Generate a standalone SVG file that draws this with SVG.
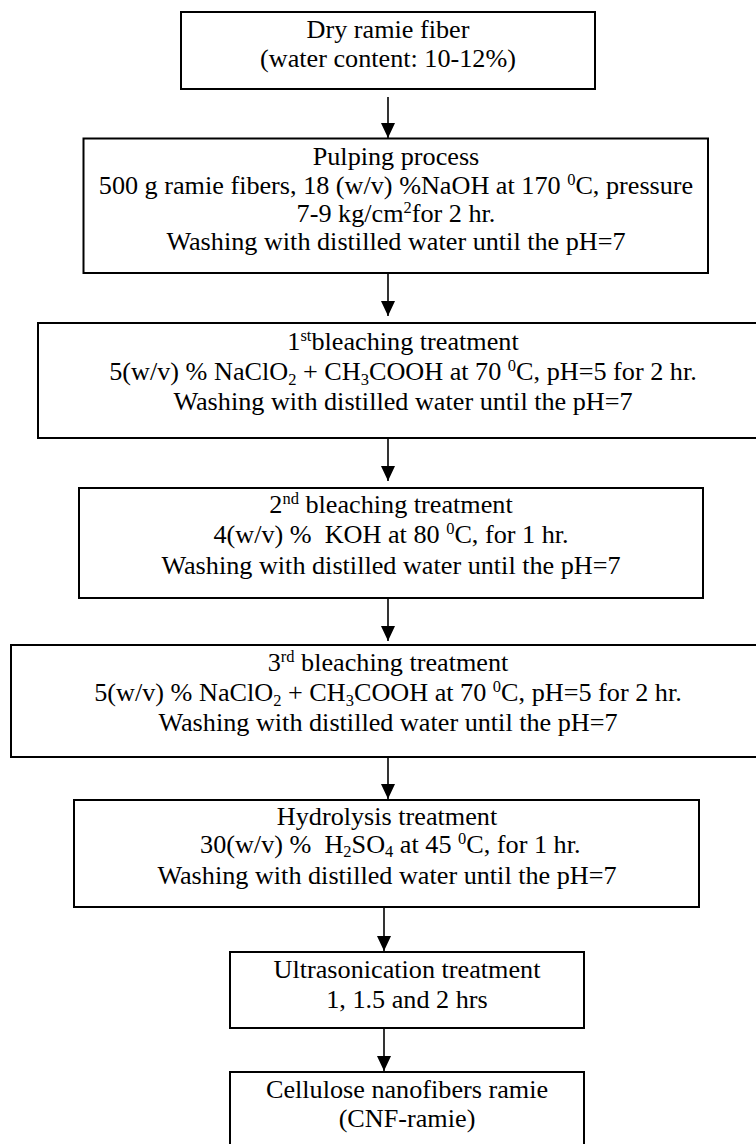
<svg xmlns="http://www.w3.org/2000/svg" width="756" height="1144" viewBox="0 0 756 1144">
<style>
.box{fill:#fff;stroke:#000;stroke-width:2}
.t{font-family:"Liberation Serif","Times New Roman",serif;font-size:26.2px;fill:#000;text-anchor:middle;white-space:pre}
.s{font-size:16.5px}
.conn line{stroke:#000;stroke-width:1.6}
</style>
<defs>
<marker id="ah" viewBox="0 0 15 14" refX="15" refY="7" markerWidth="15" markerHeight="14" markerUnits="userSpaceOnUse" orient="auto">
<path d="M0,0 L15,7 L0,14 z" fill="#000"/>
</marker>
</defs>
<rect width="756" height="1144" fill="#fff"/>
<g id="n1">
<rect class="box" x="181" y="12" width="414" height="77"/>
<text class="t" x="388" y="38">Dry ramie fiber</text>
<text class="t" x="388" y="67">(water content: 10-12%)</text>
</g>
<g id="n2">
<rect class="box" x="83.5" y="138.5" width="624.5" height="134.5"/>
<text class="t" x="396" y="165">Pulping process</text>
<text class="t" x="396" y="194">500 g ramie fibers, 18 (w/v) %NaOH at 170 <tspan class="s" dy="-9">0</tspan><tspan dy="9">C, pressure</tspan></text>
<text class="t" x="396" y="222">7-9 kg/cm<tspan class="s" dy="-9">2</tspan><tspan dy="9">for 2 hr.</tspan></text>
<text class="t" x="396" y="250">Washing with distilled water until the pH=7</text>
</g>
<g id="n3">
<rect class="box" x="38" y="323" width="730" height="115"/>
<text class="t" x="403" y="350">1<tspan class="s" dy="-9">st</tspan><tspan dy="9">bleaching treatment</tspan></text>
<text class="t" x="403" y="380">5(w/v) % NaClO<tspan class="s" dy="5">2</tspan><tspan dy="-5"> + CH</tspan><tspan class="s" dy="5">3</tspan><tspan dy="-5">COOH at 70 </tspan><tspan class="s" dy="-9">0</tspan><tspan dy="9">C, pH=5 for 2 hr.</tspan></text>
<text class="t" x="403" y="410">Washing with distilled water until the pH=7</text>
</g>
<g id="n4">
<rect class="box" x="79" y="488" width="624" height="110"/>
<text class="t" x="391" y="513">2<tspan class="s" dy="-9">nd</tspan><tspan dy="9"> bleaching treatment</tspan></text>
<text class="t" x="391" y="543">4(w/v) %  KOH at 80 <tspan class="s" dy="-9">0</tspan><tspan dy="9">C, for 1 hr.</tspan></text>
<text class="t" x="391" y="574">Washing with distilled water until the pH=7</text>
</g>
<g id="n5">
<rect class="box" x="11" y="645" width="755" height="112"/>
<text class="t" x="388" y="671">3<tspan class="s" dy="-9">rd</tspan><tspan dy="9"> bleaching treatment</tspan></text>
<text class="t" x="388" y="701">5(w/v) % NaClO<tspan class="s" dy="5">2</tspan><tspan dy="-5"> + CH</tspan><tspan class="s" dy="5">3</tspan><tspan dy="-5">COOH at 70 </tspan><tspan class="s" dy="-9">0</tspan><tspan dy="9">C, pH=5 for 2 hr.</tspan></text>
<text class="t" x="388" y="731">Washing with distilled water until the pH=7</text>
</g>
<g id="n6">
<rect class="box" x="74" y="800" width="625" height="107"/>
<text class="t" x="387" y="825">Hydrolysis treatment</text>
<text class="t" x="387" y="853"> 30(w/v) %  H<tspan class="s" dy="4">2</tspan><tspan dy="-4">SO</tspan><tspan class="s" dy="4">4</tspan><tspan dy="-4"> at 45 </tspan><tspan class="s" dy="-9">0</tspan><tspan dy="9">C, for 1 hr.</tspan></text>
<text class="t" x="387" y="884">Washing with distilled water until the pH=7</text>
</g>
<g id="n7">
<rect class="box" x="230" y="952" width="354" height="76"/>
<text class="t" x="407" y="978">Ultrasonication treatment</text>
<text class="t" x="407" y="1008">1, 1.5 and 2 hrs</text>
</g>
<g id="n8">
<rect class="box" x="230" y="1072" width="354" height="80"/>
<text class="t" x="407" y="1098">Cellulose nanofibers ramie</text>
<text class="t" x="407" y="1127">(CNF-ramie)</text>
</g>
<g id="connectors" class="conn">
<line x1="388" y1="97" x2="388" y2="138" marker-end="url(#ah)"/>
<line x1="388" y1="274" x2="388" y2="316" marker-end="url(#ah)"/>
<line x1="388" y1="439" x2="388" y2="481" marker-end="url(#ah)"/>
<line x1="388" y1="599" x2="388" y2="641" marker-end="url(#ah)"/>
<line x1="388" y1="758" x2="388" y2="799" marker-end="url(#ah)"/>
<line x1="384" y1="908" x2="384" y2="951" marker-end="url(#ah)"/>
<line x1="384" y1="1029" x2="384" y2="1071" marker-end="url(#ah)"/>
</g>
</svg>
